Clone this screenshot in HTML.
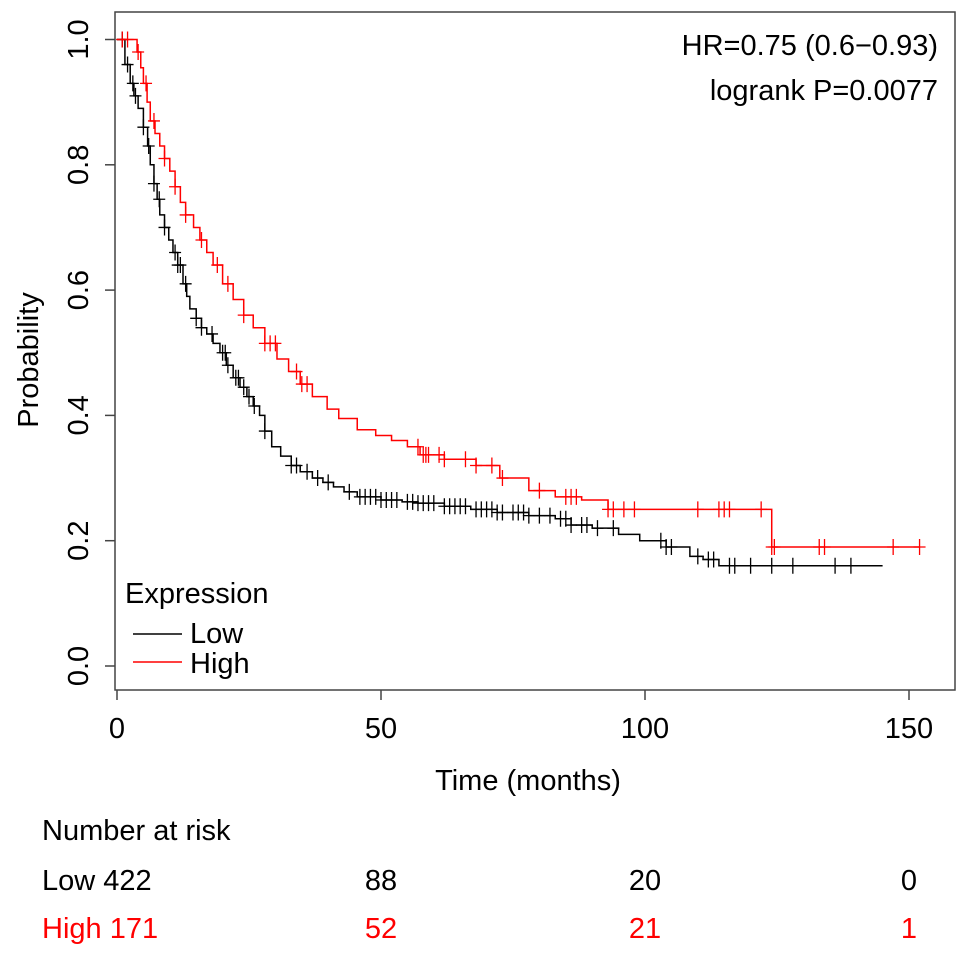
<!DOCTYPE html>
<html><head><meta charset="utf-8"><style>
html,body{margin:0;padding:0;background:#fff;}
svg text{font-family:"Liberation Sans",sans-serif;}
</style></head><body>
<svg id="chart" width="969" height="959" viewBox="0 0 969 959" xmlns="http://www.w3.org/2000/svg">
<rect x="115" y="12" width="840" height="678" fill="none" stroke="#444" stroke-width="1.5"/>
<g id="axes"></g>
<g id="series"></g>
<text x="0" y="0" font-size="29" text-anchor="middle" transform="translate(38,360) rotate(-90)">Probability</text>
<text x="528" y="790" font-size="29" text-anchor="middle">Time (months)</text>
<text x="938" y="55" font-size="29" text-anchor="end">HR=0.75 (0.6−0.93)</text>
<text x="938" y="100" font-size="29" text-anchor="end">logrank P=0.0077</text>
<text x="125" y="603" font-size="29">Expression</text>
<line x1="133" y1="634" x2="182" y2="634" stroke="#000" stroke-width="1.5"/>
<text x="190" y="643" font-size="29">Low</text>
<line x1="133" y1="662" x2="182" y2="662" stroke="#f00" stroke-width="1.5"/>
<text x="190" y="673" font-size="29">High</text>
<text x="42" y="840" font-size="29">Number at risk</text>
<g id="risk"></g>
</svg>
<script>
const xTicks=[0,50,100,150];
const yTicks=[0.0,0.2,0.4,0.6,0.8,1.0];
const lowT=[0,1.5,2.5,3.2,4,5,5.8,6.3,7,7.6,8.1,9,9.8,10.6,11.5,12.5,13.2,13.8,15,16,17,18.2,19.5,20.7,22,23.3,24.6,25.8,27,28,29.3,31,33,34.7,37,39,41,43,45.5,50,54,57,62,67,72,78,83,86,90,95,99,104,108.5,111,114];
const lowP=[1,0.96,0.93,0.91,0.89,0.86,0.83,0.80,0.77,0.745,0.72,0.70,0.68,0.66,0.64,0.61,0.59,0.57,0.555,0.54,0.53,0.515,0.50,0.48,0.46,0.445,0.43,0.415,0.40,0.375,0.35,0.335,0.32,0.31,0.30,0.293,0.286,0.278,0.27,0.265,0.262,0.26,0.255,0.25,0.245,0.24,0.235,0.225,0.22,0.21,0.20,0.19,0.175,0.17,0.16];
const lowEnd=145;
const highT=[0,3.8,4.5,5,5.7,6.3,7.2,8.1,9,10,11,12,13,14.5,15.7,17,18.2,20,22,24,25.8,28,30.3,32.5,34.7,37,39.8,42,45.5,49,52,55,57.4,62,68,72.5,78,83,88,93,124];
const highP=[1,0.98,0.955,0.93,0.90,0.87,0.85,0.83,0.81,0.79,0.765,0.74,0.72,0.70,0.68,0.66,0.64,0.61,0.585,0.56,0.54,0.515,0.49,0.47,0.45,0.43,0.41,0.395,0.377,0.368,0.36,0.35,0.337,0.33,0.32,0.30,0.28,0.27,0.265,0.25,0.19];
const highEnd=152;
const lowCens=[1,2,3,3.5,5,6,7,8,9,11,11.5,12,13,15,16,18,20,20.5,21,22.5,23,24,25,26,28,33,34,36,38,40,44,46,47,48,49,50,51,52,53,55,56,57,58,59,60,62,63,64,65,66,68,69,70,71,72,73,75,76,77,78,80,82,84,85,86,88,89,91,94,103,104,105,110,112,113,116,117,120,124,128,136,139];
const highCens=[1,2,4,5.5,7,9,11,13,16,19,21,24,28,29,30,34,35,36,57,58,58.5,59,61,62,66,68,71,73,80,85,86,87,93,94,96,98,110,114,115,116,122,124,124.5,133,134,147,152];
const riskTimes=[0,50,100,150];
const riskLow=[422,88,20,0];
const riskHigh=[171,52,21,1];
const X=t=>117+t*5.28;
const Y=p=>666-p*626.5;
const NS="http://www.w3.org/2000/svg";
function mk(tag,attrs,parent){const e=document.createElementNS(NS,tag);for(const k in attrs)e.setAttribute(k,attrs[k]);parent.appendChild(e);return e;}
const axes=document.getElementById('axes');
xTicks.forEach(t=>{
 const l=mk('line',{x1:X(t),y1:690,x2:X(t),y2:700,stroke:'#444','stroke-width':1.5},axes);
 
 
 const tx=mk('text',{x:X(t),y:738,'font-size':29,'text-anchor':'middle'},axes);tx.textContent=t;
 
 
});
yTicks.forEach(p=>{
 const l=mk('line',{x1:105,y1:Y(p),x2:115,y2:Y(p),stroke:'#444','stroke-width':1.5},axes);
 
 
 const tx=mk('text',{x:0,y:0,'font-size':29,'text-anchor':'middle',transform:`translate(88,${Y(p)}) rotate(-90)`},axes);tx.textContent=p.toFixed(1);
 
 
});
const ser=document.getElementById('series');
function stepAt(T,P,t){let v=P[0];for(let i=0;i<T.length;i++){if(T[i]<=t)v=P[i];}return v;}
function draw(T,P,end,cens,color,name){
 let d=`M${X(T[0])},${Y(P[0])}`;
 for(let i=1;i<T.length;i++){d+=`H${X(T[i])}V${Y(P[i])}`;}
 d+=`H${X(end)}`;
 const path=mk('path',{d:d,fill:'none',stroke:color,'stroke-width':1.5},ser);
 
 
 cens.forEach(t=>{
  const x=X(t),y=Y(stepAt(T,P,t));
  const c=mk('path',{d:`M${x-6},${y}H${x+6}M${x},${y-8}V${y+8}`,stroke:color,'stroke-width':1.3,fill:'none'},ser);
  
  
 });
}
draw(lowT,lowP,lowEnd,lowCens,'#000','low');
draw(highT,highP,highEnd,highCens,'#f00','high');
const risk=document.getElementById('risk');
riskTimes.forEach((t,i)=>{
 const lx=i===0?42:X(t), anchor=i===0?'start':'middle';
 const a=mk('text',{x:lx,y:890,'font-size':29,'text-anchor':anchor,fill:'#000'},risk);
 a.textContent=(i===0?'Low ':'')+riskLow[i];
 
 
 const b=mk('text',{x:lx,y:938,'font-size':29,'text-anchor':anchor,fill:'#f00'},risk);
 b.textContent=(i===0?'High ':'')+riskHigh[i];
 
 
});
</script>
</body></html>
